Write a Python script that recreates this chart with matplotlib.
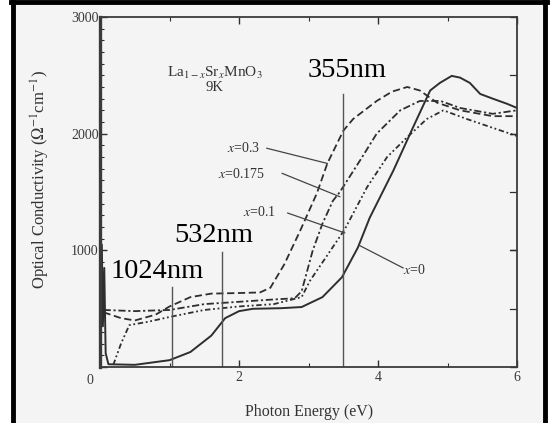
import matplotlib.pyplot as plt
import numpy as np
from matplotlib.lines import Line2D
from matplotlib.patches import Rectangle

plt.rcParams['font.family'] = ['Liberation Serif', 'DejaVu Serif']
plt.rcParams['mathtext.fontset'] = 'stix'

# photon energy (eV) / optical conductivity (1/(ohm cm))
e_x0 = [0.01, 0.025, 0.04, 0.06, 0.08, 0.12, 0.5, 1.0, 1.3, 1.6, 1.8, 2.0, 2.2, 2.6, 2.9, 3.2,
        3.48, 3.71, 3.88, 4.22, 4.5, 4.75, 4.89, 5.06, 5.18, 5.32, 5.47, 5.65, 5.86, 6.0]
s_x0 = [300, 1050, 350, 850, 120, 25, 20, 60, 130, 270, 420, 480, 500, 505, 515, 600,
        770, 1025, 1280, 1684, 2050, 2370, 2435, 2495, 2480, 2435, 2340, 2300, 2255, 2220]

e_x01 = [0.19, 0.3, 0.42, 0.7, 1.0, 1.5, 2.0, 2.5, 2.9, 3.02, 3.26, 3.52, 3.84, 4.13,
         4.42, 4.7, 4.94, 5.28, 5.65, 6.0]
s_x01 = [20, 200, 360, 390, 430, 490, 520, 540, 600, 740, 950, 1180, 1540, 1800,
         1970, 2125, 2200, 2125, 2050, 1980]

e_x0175 = [0.05, 0.5, 1.0, 1.5, 2.0, 2.5, 2.8, 2.9, 3.06, 3.2, 3.35, 3.45, 3.74, 3.98,
           4.32, 4.6, 4.9, 5.18, 5.65, 6.0]
s_x0175 = [490, 480, 490, 540, 560, 580, 590, 650, 1000, 1230, 1425, 1500, 1770, 2000,
           2200, 2280, 2280, 2220, 2170, 2200]

e_x03 = [0.05, 0.3, 0.5, 0.8, 1.0, 1.3, 1.6, 2.0, 2.3, 2.45, 2.65, 2.88, 3.12, 3.27, 3.5,
         3.64, 3.98, 4.2, 4.42, 4.6, 4.85, 5.18, 5.65, 6.0]
s_x03 = [470, 420, 400, 450, 520, 600, 630, 635, 640, 680, 880, 1170, 1490, 1745, 2025,
         2125, 2280, 2360, 2400, 2370, 2265, 2200, 2150, 2150]

# laser lines, drawn where the marks sit in the scan
laser_names = ['1024nm', '532nm', '355nm']
laser_pos = [1.04, 1.76, 3.5]
laser_top = [690, 990, 2340]

ink = '#2e2e2e'
paper = '#f4f4f4'
fig = plt.figure(figsize=(5.53, 4.23), dpi=100)
fig.patch.set_facecolor(paper)
ax = fig.add_axes([0.181, 0.132, 0.754, 0.828])
ax.set_facecolor(paper)

ax.plot(e_x0, s_x0, color=ink, lw=1.4, ls='-')
ax.plot(e_x01, s_x01, color=ink, lw=1.3, ls=(0, (3, 1.5, 1, 1.5, 1, 1.5)))
ax.plot(e_x0175, s_x0175, color=ink, lw=1.3, ls=(0, (4, 1.5, 1.2, 1.5)))
ax.plot(e_x03, s_x03, color=ink, lw=1.3, ls=(0, (4, 2)))

for xp, top in zip(laser_pos, laser_top):
    ax.plot([xp, xp], [0, top], color='#555555', lw=1.0)

ax.set_xlim(0, 6)
ax.set_ylim(0, 3000)
ax.set_xticks([0, 2, 4, 6])
ax.set_xticks([1, 3, 5], minor=True)
ax.set_yticks([0, 1000, 2000, 3000])
ax.set_yticks(np.arange(0, 3001, 100), minor=True)
ax.set_xticklabels(['', '2', '4', '6'])
ax.set_yticklabels(['', '1000', '2000', '3000'])
ax.tick_params(which='both', direction='in', top=True, right=True, color=ink,
               labelsize=10, labelcolor='#3a3a3a')
ax.tick_params(which='major', length=5, width=1.0, pad=3)
ax.tick_params(axis='y', which='major', pad=1)
ax.tick_params(which='minor', length=3, width=0.8)
ax.tick_params(axis='y', which='minor', right=False)
for sp in ax.spines.values():
    sp.set_color('#3a3a3a')
    sp.set_linewidth(1.3)
ax.spines['left'].set_linewidth(2.4)
ax.text(-0.1, -60, '0', ha='right', va='top', fontsize=10, color='#3a3a3a')

# right axis has ticks every 500
for v in [500, 1000, 1500, 2000, 2500]:
    ax.plot([5.9, 6.0], [v, v], color=ink, lw=0.9)

ax.set_xlabel('Photon Energy (eV)', fontsize=11.5, color='#333333')
ax.xaxis.set_label_coords(0.5, -0.105)
ax.set_ylabel(r'Optical Conductivity ($\Omega^{-1}$cm$^{-1}$)', fontsize=12,
              color='#333333')
ax.yaxis.set_label_coords(-0.115, 0.535)

ax.text(1.65, 2520, r'La$_{1-x}$Sr$_x$MnO$_3$', ha='center', va='center', fontsize=11,
        color='#333333')
ax.text(1.65, 2395, '9K', ha='center', va='center', fontsize=10.5, color='#333333')

# curve labels with leader lines
tags = [r'$x$=0.3', r'$x$=0.175', r'$x$=0.1', r'$x$=0']
tag_xy = [(1.82, 1880), (1.69, 1655), (2.05, 1325), (4.36, 830)]
tip_xy = [(3.27, 1745), (3.45, 1460), (3.52, 1150), (3.74, 1040)]
tail_xy = [(2.4, 1875), (2.62, 1660), (2.7, 1320), (4.36, 850)]
for t, p, tip, tail in zip(tags, tag_xy, tip_xy, tail_xy):
    ax.text(p[0], p[1], t, ha='left', va='center', fontsize=10, color='#333333')
    ax.plot([tail[0], tip[0]], [tail[1], tip[1]], color='#444444', lw=0.9)

# laser labels
fig.text(347 / 553, 1 - 77 / 423, laser_names[2], ha='center', va='baseline', fontsize=20.5)
fig.text(214 / 553, 1 - 242 / 423, laser_names[1], ha='center', va='baseline', fontsize=20.5)
fig.text(157 / 553, 1 - 278 / 423, laser_names[0], ha='center', va='baseline', fontsize=20.5)

# white margins and black frame of the scan
fig.add_artist(Rectangle((0, 0), 11 / 553, 1, color='white', transform=fig.transFigure,
                         zorder=-1))
fig.add_artist(Rectangle((547 / 553, 0), 6 / 553, 1, color='white', transform=fig.transFigure,
                         zorder=-1))
fig.add_artist(Line2D([13 / 553, 13 / 553], [0, 1], color='black', lw=3.5,
                      transform=fig.transFigure))
fig.add_artist(Line2D([545 / 553, 545 / 553], [0, 1], color='black', lw=3.5,
                      transform=fig.transFigure))
fig.add_artist(Line2D([0.02, 0.99], [1 - 2 / 423, 1 - 2 / 423], color='black', lw=3.5,
                      transform=fig.transFigure))

fig.savefig('out.png', dpi=100, facecolor=fig.get_facecolor())
